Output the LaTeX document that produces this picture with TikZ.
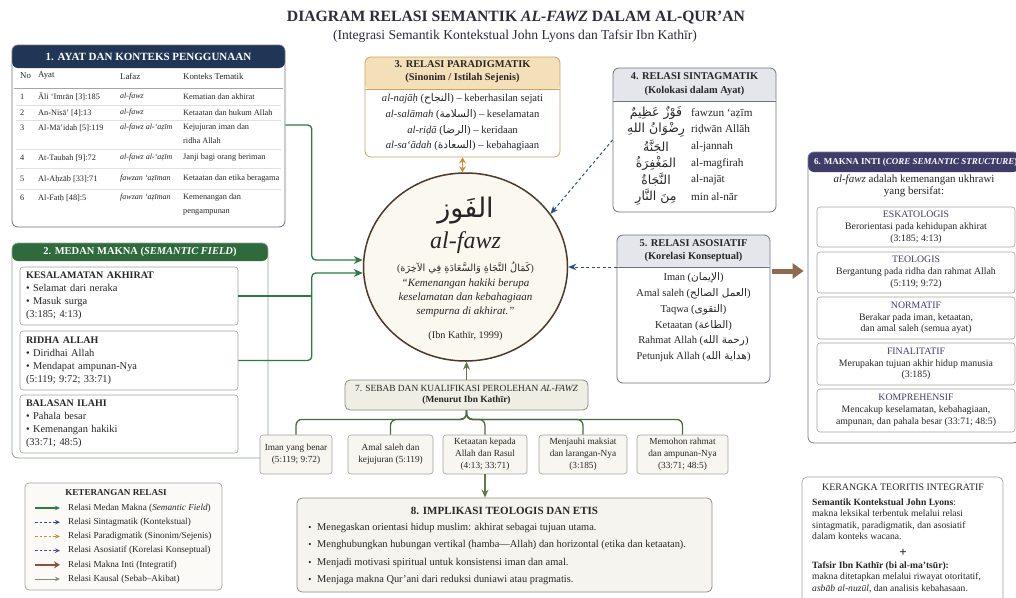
\documentclass[tikz,border=0pt]{standalone}
\usepackage{fontspec}
\setmainfont{Liberation Serif}
\newfontfamily\arabfont[Script=Arabic]{DejaVu Sans}
\TeXXeTstate=1
\usepackage{tikz}
\usetikzlibrary{positioning}
\usetikzlibrary{arrows.meta}
\usetikzlibrary{shapes.geometric}

\definecolor{ink}{HTML}{262626}
\definecolor{titleink}{HTML}{2C2C3C}
\definecolor{hdrnavy}{HTML}{1F3657}
\definecolor{hdrgreen}{HTML}{2F6A3C}
\definecolor{hdrtan}{HTML}{F4E0B8}
\definecolor{bordtan}{HTML}{C9A465}
\definecolor{hdrgray}{HTML}{E4E6EC}
\definecolor{bordgray}{HTML}{6E7280}
\definecolor{subgray}{HTML}{A3A3A0}
\definecolor{hdrpurple}{HTML}{3F3C6A}
\definecolor{bordgreen}{HTML}{8EA08E}
\definecolor{circfill}{HTML}{FBF8F0}
\definecolor{circbrown}{HTML}{4B3A2B}
\definecolor{medgreen}{HTML}{2F7A44}
\definecolor{navydash}{HTML}{2E4F86}
\definecolor{orangearr}{HTML}{C8903E}
\definecolor{asodash}{HTML}{4A4C8C}
\definecolor{brownarr}{HTML}{8C6B52}
\definecolor{legbrown}{HTML}{8E4E40}
\definecolor{olivearr}{HTML}{5E7B47}
\definecolor{olivedark}{HTML}{4A6A3A}
\definecolor{fillsebab}{HTML}{EEEEE4}
\definecolor{bordsebab}{HTML}{8E8E80}
\definecolor{fillchild}{HTML}{F7F6F0}
\definecolor{fillimpl}{HTML}{F5F4EE}
\definecolor{fillleg}{HTML}{FBFAF6}
\definecolor{leggray}{HTML}{7F8F73}

\newcommand{\arabtxt}[1]{{\arabfont\beginR#1\endR}}
\newcommand{\fs}[2]{\fontsize{#1}{#2}\selectfont}

\tikzset{
  panel/.style={draw=#1, line width=0.8pt, rounded corners=6pt, fill=white, inner sep=0pt},
  band/.style 2 args={path picture={\fill[#1] (path picture bounding box.north west) rectangle ([yshift=-#2]path picture bounding box.north east);}},
  txt/.style={inner sep=0pt, text=ink},
  cell/.style={txt, anchor=west, font=\fs{8.3}{10}},
  hdrtxt/.style={inner sep=0pt, text=white, font=\fs{11}{12}\bfseries},
  boxttl/.style={txt, align=center, font=\fs{10.4}{13}\bfseries},
  subpanel/.style={draw=subgray, line width=0.6pt, rounded corners=3pt, fill=white, minimum width=218, minimum height=58, text width=206, inner xsep=6pt, align=left, text=ink, font=\fs{10.4}{13}},
  intibox/.style={draw=subgray, line width=0.6pt, rounded corners=3pt, fill=white, minimum width=198, align=center, text=ink, font=\fs{9.8}{11.8}},
  child/.style={draw=subgray, line width=0.6pt, rounded corners=3pt, fill=fillchild, minimum height=39, inner sep=1pt, align=center, text=ink, font=\fs{9.3}{11.8}},
  rowline/.style={draw=black!12, line width=0.5pt},
  medanarr/.style={draw=medgreen, line width=1.3pt, rounded corners=4pt, -{Stealth[length=9pt,width=8pt]}},
  medanln/.style={draw=medgreen, line width=1.3pt},
  sinarr/.style={draw=navydash, line width=1pt, dash pattern=on 3pt off 2.5pt, -{Stealth[length=8pt,width=6.5pt]}},
  pararr/.style={draw=orangearr, line width=1.5pt, {Stealth[length=6pt,width=7pt]}-{Stealth[length=6pt,width=7pt]}},
  asoarr/.style={draw=navydash, line width=1pt, dash pattern=on 3pt off 2.5pt, -{Stealth[length=8pt,width=6.5pt]}},
  intiarr/.style={draw=brownarr, line width=5pt, shorten <=2pt, shorten >=4pt, -{Triangle[length=11pt,width=15pt]}},
  kausarr/.style={draw=olivearr, line width=1.3pt, -{Stealth[length=8pt,width=7pt]}},
  branchln/.style={draw=olivedark, line width=1.3pt, rounded corners=6pt},
  legmedan/.style={draw=medgreen, line width=1.2pt, -{Stealth[length=5pt,width=4.5pt]}},
  legsin/.style={draw=navydash, line width=1pt, dash pattern=on 2.5pt off 2pt, -{Stealth[length=5pt,width=4.5pt]}},
  legpar/.style={draw=orangearr, line width=1pt, dash pattern=on 2.5pt off 2pt, -{Stealth[length=5pt,width=4.5pt]}},
  legaso/.style={draw=asodash, line width=1pt, dash pattern=on 2.5pt off 2pt, -{Stealth[length=5pt,width=4.5pt]}},
  leginti/.style={draw=legbrown, line width=2.5pt, -{Stealth[length=6pt,width=7pt]}},
  legkaus/.style={draw=leggray, line width=1pt, -{Stealth[length=5pt,width=4.5pt]}},
}

\begin{document}
\begin{tikzpicture}[x=1pt,y=-1pt]
\useasboundingbox (0,0) rectangle (1016,597);
\fill[white] (0,0) rectangle (1016,597);

% Title
\node[inner sep=0, text=titleink, font=\fs{15.7}{17}\bfseries] (title) at (516,18) {DIAGRAM RELASI SEMANTIK \textit{AL-FAWZ} DALAM AL-QUR’AN};
\node[inner sep=0, text=titleink, font=\fs{13.6}{15}] (subtitle) at (515,36) {(Integrasi Semantik Kontekstual John Lyons dan Tafsir Ibn Kathīr)};

% 1. Ayat dan konteks
\node[panel=bordgray, band={hdrnavy}{23pt}, minimum width=273, minimum height=182] (ayat) at (148.5,136) {};
\node[hdrtxt] (ayat-h) at (148.5,56.5) {1. AYAT DAN KONTEKS PENGGUNAAN};
\node[cell, font=\fs{8.8}{10}] (h-no) at (20,76) {No};
\node[cell, font=\fs{8.8}{10}] (h-ay) at (38,76) {Ayat};
\node[cell, font=\fs{8.8}{10}] (h-lf) at (120,76) {Lafaz};
\node[cell, font=\fs{8.8}{10}] (h-kt) at (183,76) {Konteks Tematik};
\draw[draw=black!35, line width=0.6pt] (14,88) -- (283,88);
\foreach \yy in {105,120.5,149.5,168.5,189}
  \draw[rowline] (16,\yy) -- (281,\yy);
\foreach \i/\ay/\lf/\kt/\yy in {1/{Āli ‘Imrān [3]:185}/{al-fawz}/{Kematian dan akhirat}/97,
    2/{An-Nisā’ [4]:13}/{al-fawz}/{Ketaatan dan hukum Allah}/113,
    3/{Al-Mā’idah [5]:119}/{al-fawz al-‘aẓīm}/{Kejujuran iman dan}/128,
    4/{At-Taubah [9]:72}/{al-fawz al-‘aẓīm}/{Janji bagi orang beriman}/158,
    5/{Al-Aḥzāb [33]:71}/{fawzan ‘aẓīman}/{Ketaatan dan etika beragama}/179,
    6/{Al-Fatḥ [48]:5}/{fawzan ‘aẓīman}/{Kemenangan dan}/198}{
  \node[cell] (no\i) at (20,\yy) {\i};
  \node[cell] (ay\i) at (38,\yy) {\ay};
  \node[cell, font=\fs{8}{10}\itshape] (lf\i) at (120,\yy) {\lf};
  \node[cell] (kt\i) at (183,\yy) {\kt};
}
\node[cell] (kt3b) at (183,141) {ridha Allah};
\node[cell] (kt6b) at (183,212) {pengampunan};

% 2. Medan makna
\node[panel=bordgreen, band={hdrgreen}{18pt}, minimum width=256, minimum height=215] (medan) at (140,350.5) {};
\node[hdrtxt, font=\fs{10.5}{12}\bfseries] (medan-h) at (140,252) {2. MEDAN MAKNA (\textit{SEMANTIC FIELD})};
\node[subpanel] (s1) at (129,296) {{\fs{10}{13}\bfseries KESALAMATAN AKHIRAT}\\• Selamat dari neraka\\• Masuk surga\\(3:185; 4:13)};
\node[subpanel, minimum height=59] (s2) at (129,360.5) {{\fs{10}{13}\bfseries RIDHA ALLAH}\\• Diridhai Allah\\• Mendapat ampunan-Nya\\(5:119; 9:72; 33:71)};
\node[subpanel] (s3) at (129,424) {{\fs{10}{13}\bfseries BALASAN ILAHI}\\• Pahala besar\\• Kemenangan hakiki\\(33:71; 48:5)};

% central concept
\node[draw=circbrown, line width=1.5pt, fill=circfill, ellipse, minimum width=204, minimum height=188, inner sep=0] (fawz) at (465.5,267) {};
\node[txt, font=\fs{27}{30}] (fawz-ar) at (465.5,211) {\arabtxt{الفَوز}};
\node[txt, font=\fs{24}{26}\itshape] (fawz-lat) at (465.5,243) {al-fawz};
\node[txt, font=\fs{9.8}{12}] (fawz-def) at (465.5,268) {(\arabtxt{كَمَالُ النَّجَاةِ وَالسَّعَادَةِ فِي الآخِرَة})};
\node[txt, align=center, font=\fs{11}{14}\itshape] (fawz-q) at (465.5,298) {“Kemenangan hakiki berupa\\keselamatan dan kebahagiaan\\sempurna di akhirat.”};
\node[txt, font=\fs{10.2}{12}] (fawz-src) at (465.5,336) {(Ibn Kathīr, 1999)};

% 3. Paradigmatik
\node[panel=bordtan, band={hdrtan}{33pt}, minimum width=195, minimum height=100] (para) at (462.5,107) {};
\draw[bordtan, line width=0.8pt] ([yshift=-33pt]para.north west) -- ([yshift=-33pt]para.north east);
\node[boxttl] (para-h) at (462.5,72) {3. RELASI PARADIGMATIK\\(Sinonim / Istilah Sejenis)};
\foreach \i/\tx/\yy in {1/{\textit{al-najāḥ} (\arabtxt{النجاح}) – keberhasilan sejati}/99,
    2/{\textit{al-salāmah} (\arabtxt{السلامة}) – keselamatan}/115,
    3/{\textit{al-riḍā} (\arabtxt{الرضا}) – keridaan}/130.5,
    4/{\textit{al-sa‘ādah} (\arabtxt{السعادة}) – kebahagiaan}/146}
  \node[txt, font=\fs{10.6}{11}] (pr\i) at (462.5,\yy) {\tx};

% 4. Sintagmatik
\node[panel=bordgray, band={hdrgray}{34pt}, minimum width=163, minimum height=144] (sinta) at (694.5,140) {};
\draw[bordgray, line width=0.8pt] ([yshift=-34pt]sinta.north west) -- ([yshift=-34pt]sinta.north east);
\node[boxttl, font=\fs{10.4}{14}\bfseries] (sinta-h) at (694.5,84) {4. RELASI SINTAGMATIK\\(Kolokasi dalam Ayat)};
\foreach \i/\arb/\lt/\yy in {1/{فَوْزٌ عَظِيمٌ}/{fawzun ‘aẓīm}/113,
    2/{رِضْوَانُ اللهِ}/{riḍwān Allāh}/130,
    3/{الجَنَّةُ}/{al-jannah}/147,
    4/{المَغْفِرَةُ}/{al-magfirah}/163.5,
    5/{النَّجَاةُ}/{al-najāt}/180,
    6/{مِنَ النَّارِ}/{min al-nār}/197}{
  \node[txt, font=\fs{12.5}{14}] (sa\i) at (656,\yy) {\arabtxt{\arb}};
  \node[cell, font=\fs{11.2}{12}] (sl\i) at (691,\yy) {\lt};
}

% 5. Asosiatif
\node[panel=bordgray, band={hdrgray}{33pt}, minimum width=153, minimum height=148] (asos) at (693.5,309) {};
\draw[bordgray, line width=0.8pt] ([yshift=-33pt]asos.north west) -- ([yshift=-33pt]asos.north east);
\node[boxttl] (asos-h) at (693.5,251) {5. RELASI ASOSIATIF\\(Korelasi Konseptual)};
\foreach \i/\tx/\yy in {1/{Iman (\arabtxt{الإيمان})}/278,
    2/{Amal saleh (\arabtxt{العمل الصالح})}/293.8,
    3/{Taqwa (\arabtxt{التقوى})}/309.6,
    4/{Ketaatan (\arabtxt{الطاعة})}/325.4,
    5/{Rahmat Allah (\arabtxt{رحمة الله})}/341.2,
    6/{Petunjuk Allah (\arabtxt{هداية الله})}/357}
  \node[txt, font=\fs{10.5}{11}] (as\i) at (693.5,\yy) {\tx};

% 6. Makna inti
\node[panel=hdrpurple!70, band={hdrpurple}{20pt}, minimum width=211, minimum height=291] (inti) at (913.5,297.5) {};
\node[hdrtxt, anchor=west, font=\fs{9}{10}\bfseries] (inti-h) at (814,162) {6. MAKNA INTI (\textit{CORE SEMANTIC STRUCTURE})};
\node[txt, align=center, font=\fs{11}{12}] (inti-i) at (914,186) {\textit{al-fawz} adalah kemenangan ukhrawi\\yang bersifat:};
\node[intibox, minimum height=40] (k1) at (916,227) {{\color{hdrpurple}ESKATOLOGIS}\\Berorientasi pada kehidupan akhirat\\(3:185; 4:13)};
\node[intibox, minimum height=41] (k2) at (916,272.5) {{\color{hdrpurple}TEOLOGIS}\\Bergantung pada ridha dan rahmat Allah\\(5:119; 9:72)};
\node[intibox, minimum height=42] (k3) at (916,318) {{\color{hdrpurple}NORMATIF}\\Berakar pada iman, ketaatan,\\dan amal saleh (semua ayat)};
\node[intibox, minimum height=42] (k4) at (916,364) {{\color{hdrpurple}FINALITATIF}\\Merupakan tujuan akhir hidup manusia\\(3:185)};
\node[intibox, minimum height=43] (k5) at (916,410.5) {{\color{hdrpurple}KOMPREHENSIF}\\Mencakup keselamatan, kebahagiaan,\\ampunan, dan pahala besar (33:71; 48:5)};

% connectors to the centre
\coordinate (jn) at ([xshift=-51pt]fawz.west);
\draw[medanarr] ([yshift=11pt]ayat.east) -| ([yshift=7pt]jn) -- ([yshift=7pt]fawz.west);
\draw[medanarr] (s2.east) -| ([yshift=-6pt]jn) -- ([yshift=-6pt]fawz.west);
\draw[medanln] (s1.east) -- (s1.east -| jn);
\draw[pararr] (para.south) -- (para.south |- fawz.north);
\draw[sinarr] (sinta.west) -- (fawz.32);
\draw[asoarr] (fawz.east -| asos.west) -- (fawz.east);
\draw[intiarr] ([yshift=38pt]asos.east) -- ([yshift=38pt]asos.east -| inti.west);

% 7. Sebab dan kualifikasi
\node[draw=bordsebab, fill=fillsebab, rounded corners=5pt, line width=0.8pt, minimum width=243, minimum height=30, inner sep=1pt, align=center, text=ink, font=\fs{9.4}{11}] (sebab) at (466.5,395) {7. SEBAB DAN KUALIFIKASI PEROLEHAN \textit{AL-FAWZ}\\\textbf{(Menurut Ibn Kathīr)}};
\draw[kausarr] (sebab.north) -- (sebab.north |- fawz.south);
\node[child, minimum width=72] (c1) at (296,454.5) {Iman yang benar\\(5:119; 9:72)};
\node[child, minimum width=85] (c2) at (390.5,454.5) {Amal saleh dan\\kejujuran (5:119)};
\node[child, minimum width=84] (c3) at (485,454.5) {Ketaatan kepada\\Allah dan Rasul\\(4:13; 33:71)};
\node[child, minimum width=88] (c4) at (583,454.5) {Menjauhi maksiat\\dan larangan-Nya\\(3:185)};
\node[child, minimum width=91] (c5) at (682.5,454.5) {Memohon rahmat\\dan ampunan-Nya\\(33:71; 48:5)};
\foreach \c in {c1,c2,c3,c4,c5}
  \draw[branchln] (sebab.south) -- ++(0,9) -| (\c.north);

% 8. Implikasi
\node[draw=bordsebab, fill=fillimpl, rounded corners=5pt, line width=0.8pt, minimum width=415, minimum height=94] (impl) at (504.5,545) {};
\draw[kausarr] (c3.south) -- (c3.south |- impl.north);
\node[txt, font=\fs{11}{12}\bfseries] (impl-h) at (504.5,511) {8. IMPLIKASI TEOLOGIS DAN ETIS};
\foreach \i/\tx/\yy in {1/{Menegaskan orientasi hidup muslim: akhirat sebagai tujuan utama.}/528,
    2/{Menghubungkan hubungan vertikal (hamba—Allah) dan horizontal (etika dan ketaatan).}/545.5,
    3/{Menjadi motivasi spiritual untuk konsistensi iman dan amal.}/563,
    4/{Menjaga makna Qur’ani dari reduksi duniawi atau pragmatis.}/580}{
  \node[txt, font=\fs{9}{10}] (bd\i) at (310,\yy) {•};
  \node[cell, font=\fs{10.4}{11}] (bt\i) at (317,\yy) {\tx};
}

% legend
\node[draw=subgray, fill=fillleg, rounded corners=4pt, line width=0.7pt, minimum width=197, minimum height=107] (leg) at (123.5,536.5) {};
\node[txt, font=\fs{9.1}{10}\bfseries] (leg-h) at (116,493) {KETERANGAN RELASI};
\foreach \i/\st/\tx/\yy in {1/legmedan/{Relasi Medan Makna (\textit{Semantic Field})}/508,
    2/legsin/{Relasi Sintagmatik (Kontekstual)}/522.2,
    3/legpar/{Relasi Paradigmatik (Sinonim/Sejenis)}/536.4,
    4/legaso/{Relasi Asosiatif (Korelasi Konseptual)}/550.6,
    5/leginti/{Relasi Makna Inti (Integratif)}/564.8,
    6/legkaus/{Relasi Kausal (Sebab–Akibat)}/579}{
  \coordinate (la\i) at (35,\yy);
  \coordinate (lb\i) at (60,\yy);
  \draw[\st] (la\i) -- (lb\i);
  \node[cell, font=\fs{9.2}{10}] (lt\i) at (68,\yy) {\tx};
}

% kerangka teoritis
\node[draw=subgray, fill=white, rounded corners=5pt, line width=0.7pt, minimum width=201, minimum height=150] (kerangka) at (902.5,552) {};
\node[txt, font=\fs{9.9}{11}] (ker-h) at (903,487) {KERANGKA TEORITIS INTEGRATIF};
\node[txt, anchor=north west, align=left, font=\fs{9.6}{11.5}] (lyons) at (812,498.5) {\textbf{Semantik Kontekstual John Lyons}:\\makna leksikal terbentuk melalui relasi\\sintagmatik, paradigmatik, dan asosiatif\\dalam konteks wacana.};
\node[txt, font=\fs{13}{13}\bfseries] (plus) at (903,553) {+};
\node[txt, anchor=north west, align=left, font=\fs{9.6}{11.5}] (kathir) at (812,561.5) {\textbf{Tafsir Ibn Kathīr (bi al-ma’tsūr):}\\makna ditetapkan melalui riwayat otoritatif,\\\textit{asbāb al-nuzūl}, dan analisis kebahasaan.};
\end{tikzpicture}
\end{document}
